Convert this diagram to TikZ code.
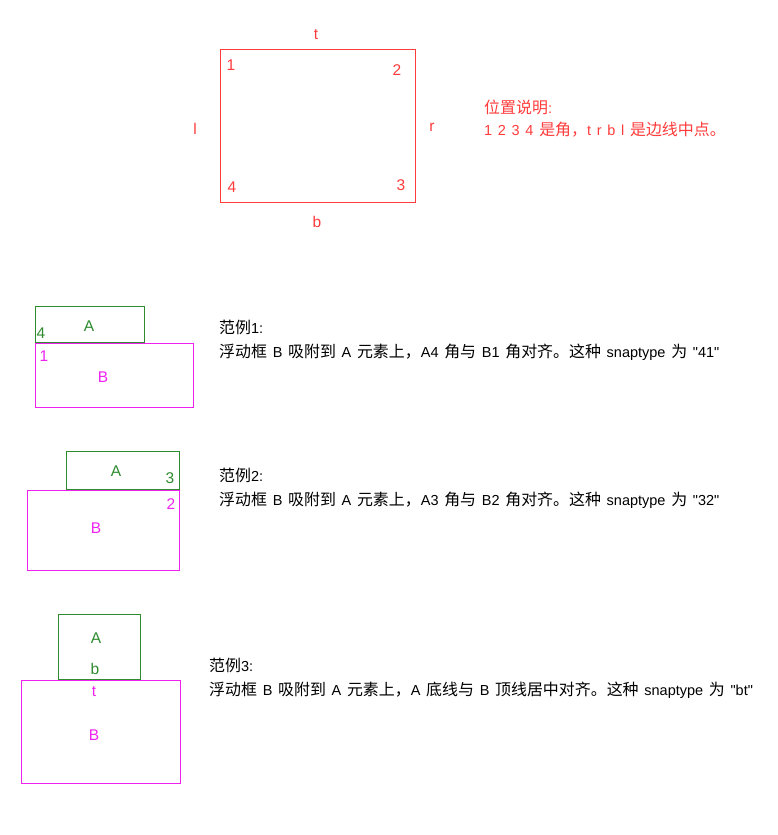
\documentclass[tikz,border=0pt]{standalone}
\usepackage{fontspec}
\setmainfont{Liberation Sans}
\newfontfamily\zh[Scale=1.1]{Noto Sans CJK SC}
\definecolor{markred}{HTML}{FF3B3B}
\definecolor{boxgreen}{HTML}{2E8B2E}
\definecolor{boxpink}{HTML}{EE22EE}
\newcommand{\qt}[1]{\textquotedbl#1\textquotedbl}
\newcommand{\widesp}{\spaceskip=5.7pt\relax}

\begin{document}
\begin{tikzpicture}[x=1pt,y=-1pt,
    every node/.style={inner sep=0pt,font=\fontsize{15.5}{18}\selectfont},
    redmark/.style={text=markred},
    greenmark/.style={text=boxgreen},
    pinkmark/.style={text=boxpink},
    note/.style={anchor=west,align=left,font=\fontsize{14.5}{24}\selectfont\widesp}]

    \useasboundingbox (0,0) rectangle (778,835);

    % position legend
    \draw[markred] (220,49) rectangle (415,202);
    \node[redmark] (posT) at (316,35) {t};
    \node[redmark] (posL) at (195,129) {l};
    \node[redmark] (posR) at (432,127) {r};
    \node[redmark] (posB) at (317,222) {b};
    \node[redmark] (pos1) at (231,65) {1};
    \node[redmark] (pos2) at (397,70) {2};
    \node[redmark] (pos3) at (401,185) {3};
    \node[redmark] (pos4) at (232,187) {4};
    \node[note,redmark,font=\fontsize{14.5}{22}\selectfont\widesp] (legend) at (484,119)
        {{\zh 位置说明}:\\1 2 3 4 {\zh 是角，}t r b l {\zh 是边线中点。}};

    % example 1
    \draw[boxgreen] (35,306) rectangle (144,342);
    \draw[boxpink] (35,343) rectangle (193,407);
    \node[greenmark] (oneA) at (89,326) {A};
    \node[greenmark] (oneA4) at (41,333) {4};
    \node[pinkmark] (oneB1) at (44,356) {1};
    \node[pinkmark] (oneB) at (103,377) {B};
    \node[note] (oneText) at (219,340)
        {{\zh 范例}1:\\{\zh 浮动框} B {\zh 吸附到} A {\zh 元素上，}A4 {\zh 角与} B1 {\zh 角对齐。这种} snaptype {\zh 为} \qt{41}};

    % example 2
    \draw[boxgreen] (66,451) rectangle (179,489);
    \draw[boxpink] (27,490) rectangle (179,570);
    \node[greenmark] (twoA) at (116,471) {A};
    \node[greenmark] (twoA3) at (170,478) {3};
    \node[pinkmark] (twoB2) at (171,504) {2};
    \node[pinkmark] (twoB) at (96,528) {B};
    \node[note] (twoText) at (219,488)
        {{\zh 范例}2:\\{\zh 浮动框} B {\zh 吸附到} A {\zh 元素上，}A3 {\zh 角与} B2 {\zh 角对齐。这种} snaptype {\zh 为} \qt{32}};

    % example 3
    \draw[boxgreen] (58,614) rectangle (140,679);
    \draw[boxpink] (21,680) rectangle (180,783);
    \node[greenmark] (threeA) at (96,638) {A};
    \node[greenmark] (threeAb) at (95,669) {b};
    \node[pinkmark] (threeBt) at (94,692) {t};
    \node[pinkmark] (threeB) at (94,735) {B};
    \node[note] (threeText) at (209,678)
        {{\zh 范例}3:\\{\zh 浮动框} B {\zh 吸附到} A {\zh 元素上，}A {\zh 底线与} B {\zh 顶线居中对齐。这种} snaptype {\zh 为} \qt{bt}};
\end{tikzpicture}
\end{document}
